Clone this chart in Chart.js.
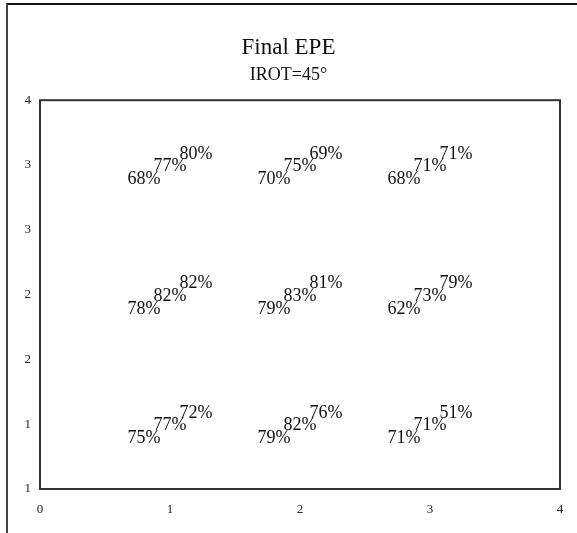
<!DOCTYPE html>
<html>
<head>
<meta charset="utf-8">
<script src="https://cdn.jsdelivr.net/npm/chart.js@4.4.1/dist/chart.umd.min.js"></script>
<style>
  html, body { margin: 0; padding: 0; background: #fff; overflow: hidden; }
  #wrap { position: relative; width: 577px; height: 533px; }
  #frame {
    position: absolute; left: 6px; top: 3px; width: 640px; height: 640px;
    border-top: 2px solid #111; border-left: 2px solid #444;
    pointer-events: none;
  }
</style>
</head>
<body>
<div id="wrap">
  <canvas id="epeChart" width="577" height="533"></canvas>
  <div id="frame"></div>
</div>
<script>
// Данные: ячейки сетки и три значения в каждой (проценты)
const cellX = [1, 2, 3];
const rowY = [3.5, 2.5, 1.5];
// строки сверху вниз, внутри строки — ячейки слева направо
const seriesA = [68, 70, 68, 78, 79, 62, 75, 79, 71];
const seriesB = [77, 75, 71, 82, 83, 73, 77, 82, 71];
const seriesC = [80, 69, 71, 82, 81, 79, 72, 76, 51];
const xTicks = [0, 1, 2, 3, 4];
const yTicks = [1, 1.5, 2, 2.5, 3, 3.5, 4];

// смещение подписей внутри ячейки (в единицах осей)
const shifts = [[-0.2, -0.11], [0, -0.01], [0.2, 0.085]];

function buildPoints(values, shift) {
    const pts = [];
    rowY.forEach((y, r) => {
        cellX.forEach((x, c) => {
            pts.push({ x: x + shift[0], y: y + shift[1], v: values[r * cellX.length + c] });
        });
    });
    return pts;
}

const serif = "'Liberation Serif', 'DejaVu Serif', serif";

const labelPlugin = {
    id: 'pctLabels',
    afterDatasetsDraw(chart) {
        const ctx = chart.ctx;
        ctx.save();
        ctx.font = '18px ' + serif;
        ctx.fillStyle = '#111';
        ctx.textAlign = 'center';
        ctx.textBaseline = 'middle';
        chart.data.datasets.forEach((ds, i) => {
            chart.getDatasetMeta(i).data.forEach((pt, j) => {
                ctx.fillText(ds.data[j].v + '%', pt.x, pt.y);
            });
        });
        ctx.restore();
    }
};

const boxPlugin = {
    id: 'plotBox',
    afterDraw(chart) {
        const a = chart.chartArea;
        const ctx = chart.ctx;
        ctx.save();
        ctx.strokeStyle = '#333';
        ctx.lineWidth = 2;
        ctx.strokeRect(a.left, a.top, a.right - a.left, a.bottom - a.top);
        ctx.restore();
    }
};

document.addEventListener('DOMContentLoaded', () => {
    const ctx = document.getElementById('epeChart').getContext('2d');
    new Chart(ctx, {
        type: 'scatter',
        data: {
            datasets: [seriesA, seriesB, seriesC].map((s, i) => ({
                label: 'S' + (i + 1),
                data: buildPoints(s, shifts[i]),
                pointRadius: 0,
                pointHoverRadius: 0
            }))
        },
        options: {
            responsive: false,
            animation: false,
            events: [],
            layout: { padding: { left: 17, right: 17, top: 0, bottom: 0 } },
            plugins: {
                legend: { display: false },
                tooltip: { enabled: false },
                title: {
                    display: true,
                    text: 'Final EPE',
                    color: '#111',
                    font: { family: serif, size: 23, weight: 'normal' },
                    padding: { top: 34, bottom: 0 }
                },
                subtitle: {
                    display: true,
                    text: 'IROT=45°',
                    color: '#111',
                    font: { family: serif, size: 18, weight: 'normal' },
                    padding: { top: 3, bottom: 14 }
                }
            },
            scales: {
                x: {
                    type: 'linear',
                    min: 0, max: 4,
                    afterBuildTicks: (s) => { s.ticks = xTicks.map(v => ({ value: v })); },
                    afterFit: (s) => { s.height = 44; },
                    grid: { display: false },
                    border: { display: false },
                    ticks: {
                        color: '#222',
                        padding: 5,
                        font: { family: serif, size: 13 }
                    }
                },
                y: {
                    type: 'linear',
                    min: 1, max: 4,
                    afterBuildTicks: (s) => { s.ticks = yTicks.map(v => ({ value: v })); },
                    afterFit: (s) => { s.width = 23; },
                    grid: { display: false },
                    border: { display: false },
                    ticks: {
                        color: '#222',
                        padding: 1,
                        font: { family: serif, size: 13 },
                        callback: (v) => Math.floor(v)
                    }
                }
            }
        },
        plugins: [labelPlugin, boxPlugin]
    });
});
</script>
</body>
</html>
